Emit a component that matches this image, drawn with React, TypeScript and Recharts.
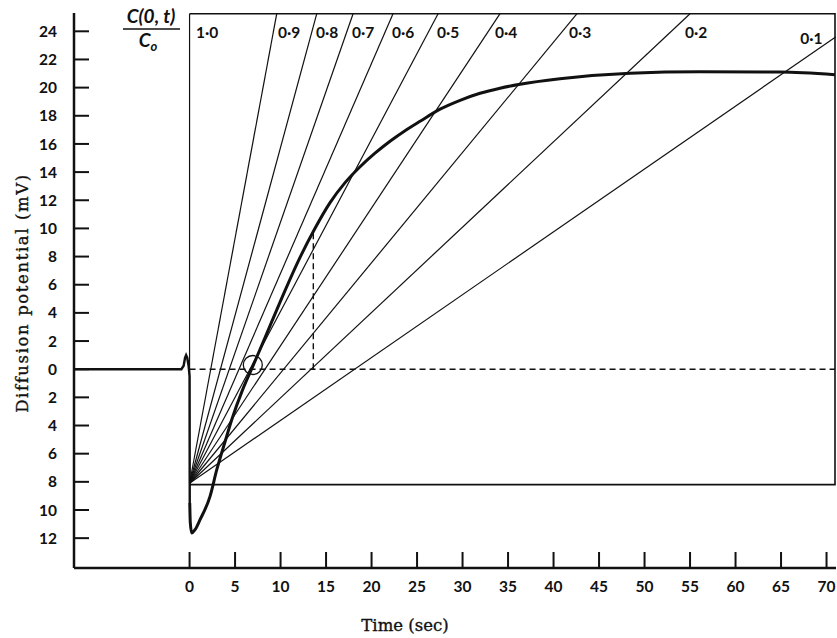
import React from 'react';
import { ComposedChart, Line, XAxis, YAxis, ReferenceDot, Customized } from 'recharts';

// ---- data ----
const xTicks = [0, 5, 10, 15, 20, 25, 30, 35, 40, 45, 50, 55, 60, 65, 70];
const yTicks = [-12, -10, -8, -6, -4, -2, 0, 2, 4, 6, 8, 10, 12, 14, 16, 18, 20, 22, 24];

// recorded trace: baseline, artefact and step
const traceBefore = [
  { t: -12.7, v: 0 },
  { t: -0.9, v: 0 },
  { t: -0.65, v: 0.25 },
  { t: -0.5, v: 0.8 },
  { t: -0.38, v: 1.0 },
  { t: -0.25, v: 0.8 },
  { t: -0.1, v: 0.2 },
  { t: 0.0, v: -0.5 },
  { t: 0.02, v: -9.5 },
];
// loop and rise of the diffusion potential
const traceAfter = [
  { t: 0.02, v: -9.5 },
  { t: 0.08, v: -10.9 },
  { t: 0.24, v: -11.63 },
  { t: 0.6, v: -11.4 },
  { t: 1.15, v: -10.69 },
  { t: 2.25, v: -9.03 },
  { t: 2.99, v: -7.14 },
  { t: 3.9, v: -5.15 },
  { t: 4.67, v: -3.52 },
  { t: 5.77, v: -1.56 },
  { t: 6.98, v: 0.25 },
  { t: 8.85, v: 3.09 },
  { t: 10.49, v: 5.58 },
  { t: 12.14, v: 7.94 },
  { t: 13.79, v: 10.01 },
  { t: 15.44, v: 11.83 },
  { t: 17.09, v: 13.25 },
  { t: 18.74, v: 14.38 },
  { t: 20.38, v: 15.34 },
  { t: 22.03, v: 16.19 },
  { t: 23.68, v: 16.94 },
  { t: 25.33, v: 17.61 },
  { t: 27.53, v: 18.47 },
  { t: 29.73, v: 19.1 },
  { t: 31.92, v: 19.6 },
  { t: 34.12, v: 19.96 },
  { t: 36.32, v: 20.24 },
  { t: 40.71, v: 20.63 },
  { t: 48.41, v: 21.02 },
  { t: 56.1, v: 21.12 },
  { t: 64.89, v: 21.11 },
  { t: 70.93, v: 20.92 },
];

// fan of theoretical lines C(0,t)/Co, all from the same origin
const fanOrigin = { t: 0, v: -8.1 };
const fanLabels = ['1·0', '0·9', '0·8', '0·7', '0·6', '0·5', '0·4', '0·3', '0·2', '0·1'];
const fanEndT = [0, 9.58, 13.98, 17.97, 22.36, 27.31, 34.12, 42.58, 55.0, 71.0];
const fanEndV = [25.25, 25.25, 25.25, 25.25, 25.25, 25.25, 25.25, 25.25, 25.25, 23.6];
const fanLabelT = [0.71, 9.73, 13.9, 17.86, 22.25, 27.2, 33.57, 41.7, 54.45, 67.1];
const fanLabelV = [23.9, 23.9, 23.9, 23.9, 23.9, 23.9, 23.9, 23.9, 23.9, 23.47];

// frame drawn around the fan
const frame = [
  { t: 0, v: 25.25 },
  { t: 70.93, v: 25.25 },
  { t: 70.93, v: -8.2 },
  { t: 0, v: -8.2 },
];
const zeroDashed = [
  { t: 0, v: 0 },
  { t: 70.93, v: 0 },
];
const halfDashed = [
  { t: 13.6, v: 0 },
  { t: 13.6, v: 9.9 },
];
const circleMark = { t: 6.95, v: 0.3 };

const INK = '#111';
const SANS = 'Lato, "Open Sans", "DejaVu Sans", sans-serif';
const SERIF = '"DejaVu Serif", "Liberation Serif", serif';

const YTick = (props: any) => {
  const { x, y, payload } = props;
  return (
    <g>
      <line x1={x} x2={x + 15} y1={y} y2={y} stroke={INK} strokeWidth={2} />
      <text x={x - 17} y={y} dy="0.36em" textAnchor="end" fontFamily={SANS} fontWeight={700} fontSize={15.5} fill={INK}>
        {Math.abs(payload.value)}
      </text>
    </g>
  );
};

const XTick = (props: any) => {
  const { x, y, payload } = props;
  return (
    <g>
      <line x1={x} x2={x} y1={y} y2={y - 16} stroke={INK} strokeWidth={2} />
      <text x={x} y={y + 24} textAnchor="middle" fontFamily={SANS} fontWeight={700} fontSize={15.5} fill={INK}>
        {payload.value}
      </text>
    </g>
  );
};

const Titles = () => (
  <g>
    <text x={405} y={631} textAnchor="middle" fontFamily={SERIF} fontSize={16.5} fill={INK} stroke={INK} strokeWidth={0.35}>
      Time (sec)
    </text>
    <text
      x={28}
      y={293}
      transform="rotate(-90 28 293)"
      textAnchor="middle"
      fontFamily={SERIF}
      fontSize={16.5}
      letterSpacing={1.6}
      fill={INK}
      stroke={INK}
      strokeWidth={0.35}
    >
      Diffusion potential (mV)
    </text>
    <text x={151} y={23} textAnchor="middle" fontFamily={SANS} fontWeight={700} fontStyle="italic" fontSize={19} fill={INK}>
      C(0, t)
    </text>
    <line x1={123} x2={180} y1={29} y2={29} stroke={INK} strokeWidth={1.6} />
    <text x={148} y={47} textAnchor="middle" fontFamily={SANS} fontWeight={700} fontStyle="italic" fontSize={19} fill={INK}>
      C
      <tspan fontSize={13} dy={4}>o</tspan>
    </text>
  </g>
);

export default function App() {
  return (
    <div style={{ position: 'absolute', left: 0, top: 0, width: 837, height: 638, background: '#fff' }}>
      <ComposedChart width={837} height={638} margin={{ top: 13, right: 1, bottom: 0, left: 0 }}>
        <XAxis
          type="number"
          dataKey="t"
          domain={[-12.7, 71.04]}
          ticks={xTicks}
          interval={0}
          height={70}
          tickSize={0}
          tickMargin={0}
          tick={<XTick />}
          axisLine={{ stroke: INK, strokeWidth: 2.5 }}
        />
        <YAxis
          type="number"
          dataKey="v"
          domain={[-14.12, 25.3]}
          ticks={yTicks}
          interval={0}
          width={74}
          tickSize={0}
          tickMargin={0}
          tick={<YTick />}
          axisLine={{ stroke: INK, strokeWidth: 2.5 }}
        />
        <Line data={frame} dataKey="v" type="linear" stroke={INK} strokeWidth={1.6} dot={false} isAnimationActive={false} />
        <Line data={zeroDashed} dataKey="v" type="linear" stroke={INK} strokeWidth={1.4} strokeDasharray="6 4" dot={false} isAnimationActive={false} />
        <Line data={halfDashed} dataKey="v" type="linear" stroke={INK} strokeWidth={1.4} strokeDasharray="6 4" dot={false} isAnimationActive={false} />
        {fanLabels.map((lab, i) => (
          <Line
            key={lab}
            data={[fanOrigin, { t: fanEndT[i], v: fanEndV[i] }]}
            dataKey="v"
            type="linear"
            stroke={INK}
            strokeWidth={1.2}
            dot={false}
            isAnimationActive={false}
          />
        ))}
        <Line data={traceBefore} dataKey="v" type="linear" stroke={INK} strokeWidth={2.4} dot={false} isAnimationActive={false} />
        <Line data={traceAfter} dataKey="v" type="monotoneX" stroke={INK} strokeWidth={3} dot={false} isAnimationActive={false} />
        <ReferenceDot x={circleMark.t} y={circleMark.v} r={9.5} fill="none" stroke={INK} strokeWidth={1.3} />
        {fanLabels.map((lab, i) => (
          <ReferenceDot
            key={'l' + lab}
            x={fanLabelT[i]}
            y={fanLabelV[i]}
            r={1}
            shape={(p: any) => (
              <text x={p.cx} y={p.cy} dy="0.36em" fontFamily={SANS} fontWeight={700} fontSize={15.5} fill={INK}>
                {lab}
              </text>
            )}
          />
        ))}
        <Customized component={Titles} />
      </ComposedChart>
    </div>
  );
}
